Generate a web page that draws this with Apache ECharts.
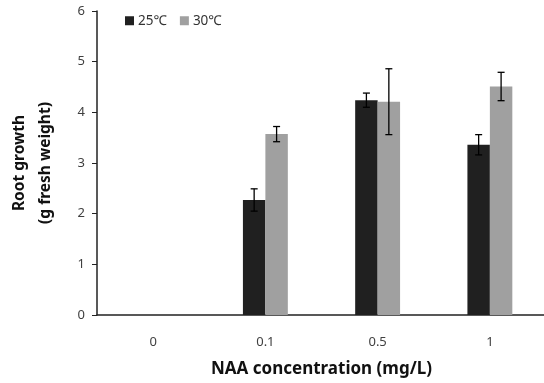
<!DOCTYPE html>
<html><head><meta charset="utf-8">
<script src="https://cdn.jsdelivr.net/npm/echarts@6/dist/echarts.min.js"></script>
<style>html,body{margin:0;padding:0;background:#fff}#c{width:544px;height:383px}</style>
</head><body><div id="c"></div>
<script>
const categories = ['0', '0.1', '0.5', '1'];
const series25 = [0, 2.27, 4.24, 3.36];
const err25 = [0, 0.22, 0.14, 0.20];
const series30 = [0, 3.57, 4.21, 4.51];
const err30 = [0, 0.15, 0.65, 0.28];
const yTicks = [0, 1, 2, 3, 4, 5, 6];
const seriesNames = ['25℃', '30℃'];

const FONT = '"Noto Sans", "Noto Sans CJK KR", sans-serif';
const chart = echarts.init(document.getElementById('c'));

function errSeries(vals, errs, idx) {
  return {
    type: 'custom',
    data: vals.map((v, i) => [i, v, errs[i]]),
    z: 10,
    silent: true,
    renderItem: function (params, api) {
      const i = api.value(0), v = api.value(1), e = api.value(2);
      if (!v) return null;
      const size = api.size([1, 0]);
      const bw = size[0] * 0.2;
      const x = api.coord([i, v])[0] + (idx === 0 ? -bw / 2 : bw / 2);
      const top = api.coord([i, v + e])[1];
      const bot = api.coord([i, v - e])[1];
      const cap = 3.5;
      const st = { stroke: '#000', lineWidth: 1.3 };
      return { type: 'group', children: [
        { type: 'line', shape: { x1: x, y1: top, x2: x, y2: bot }, style: st },
        { type: 'line', shape: { x1: x - cap, y1: top, x2: x + cap, y2: top }, style: st },
        { type: 'line', shape: { x1: x - cap, y1: bot, x2: x + cap, y2: bot }, style: st }
      ]};
    }
  };
}

chart.setOption({
  animation: false,
  textStyle: { fontFamily: FONT },
  grid: { left: 97, right: -2, top: 11, bottom: 68, containLabel: false, outerBoundsMode: 'none' },
  legend: {
    data: seriesNames, left: 120, top: 9, itemWidth: 9, itemHeight: 9, itemGap: 13,
    icon: 'rect',
    textStyle: { fontSize: 13.5, color: '#333', fontFamily: FONT, padding: [0, 0, 0, -1] }
  },
  xAxis: {
    type: 'category', data: categories,
    axisLine: { lineStyle: { color: '#222', width: 1.5 } },
    axisTick: { show: false },
    axisLabel: { fontSize: 13, color: '#404040', margin: 21, fontFamily: FONT },
    name: 'NAA concentration (mg/L)', nameLocation: 'middle', nameGap: 46,
    nameTextStyle: { fontSize: 17, fontWeight: 'bold', color: '#111', fontFamily: FONT }
  },
  yAxis: {
    type: 'value', min: 0, max: 6, interval: 1,
    axisLine: { show: true, lineStyle: { color: '#222', width: 1.5 } },
    axisTick: { show: true, length: 5, lineStyle: { color: '#222' } },
    splitLine: { show: false },
    axisLabel: { fontSize: 13, color: '#404040', margin: 12, fontFamily: FONT,
      formatter: v => yTicks.includes(v) ? String(v) : '' },
    name: 'Root growth\n(g fresh weight)', nameLocation: 'middle', nameGap: 38, nameRotate: 90,
    nameTextStyle: { fontSize: 15.5, fontWeight: 'bold', color: '#111', lineHeight: 26, fontFamily: FONT }
  },
  series: [
    { name: seriesNames[0], type: 'bar', data: series25, barWidth: '20%', barGap: '0%',
      itemStyle: { color: '#202020' } },
    { name: seriesNames[1], type: 'bar', data: series30, barWidth: '20%', barGap: '0%',
      itemStyle: { color: '#a0a0a0' } },
    errSeries(series25, err25, 0),
    errSeries(series30, err30, 1)
  ]
});
</script></body></html>
